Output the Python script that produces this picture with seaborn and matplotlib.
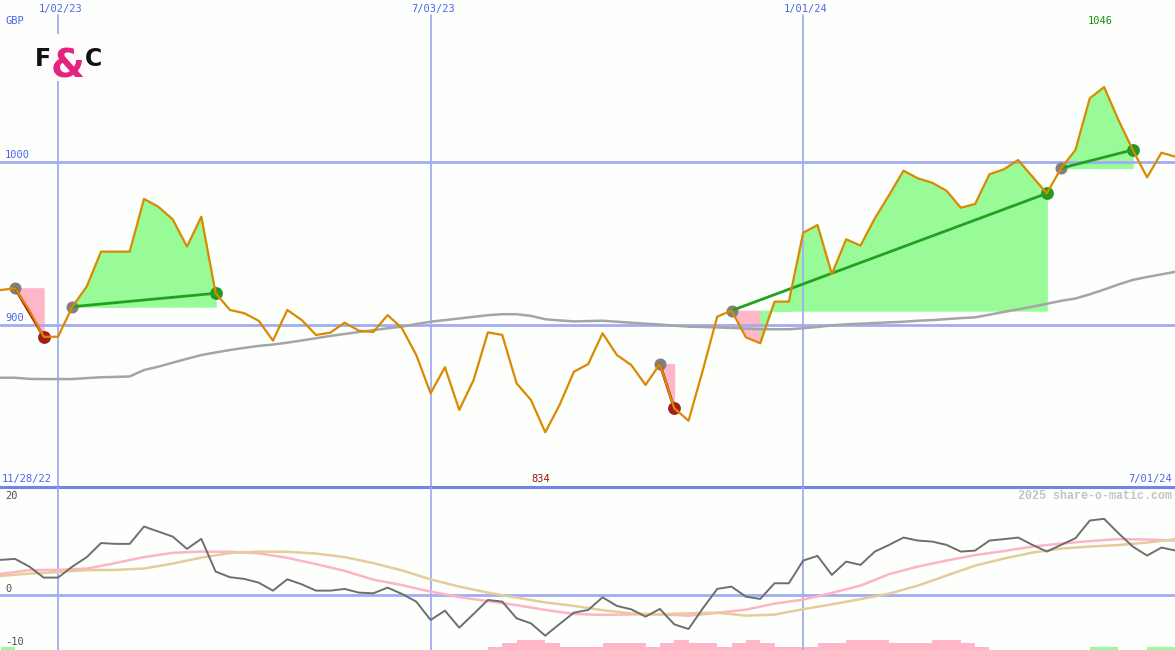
import numpy as np
import pandas as pd
import matplotlib
matplotlib.use("Agg")
import matplotlib.pyplot as plt
import matplotlib.transforms as mtrans
import seaborn as sns
from matplotlib.patches import Rectangle

# ---------------- data (weekly, Mondays from 12/05/22 to 7/01/24) ----------------
price = [921.4, 922.5, 909.0, 892.8, 892.8, 911.2, 923.5, 944.9, 944.9, 944.9,
         977.2, 972.4, 964.7, 948.0, 966.3, 919.4, 909.2, 907.2, 902.6, 890.4,
         909.2, 903.1, 893.9, 895.3, 901.4, 896.5, 895.7, 906.1, 898.0, 881.6,
         858.2, 874.1, 848.0, 866.3, 895.5, 893.9, 864.3, 854.1, 834.3, 851.0,
         871.4, 876.1, 894.9, 881.6, 875.5, 863.3, 876.1, 849.0, 841.4, 872.4,
         905.1, 908.8, 892.5, 888.8, 914.3, 914.3, 956.5, 961.2, 931.2, 952.5,
         948.6, 965.3, 979.6, 994.5, 989.8, 987.1, 982.2, 971.8, 974.1, 992.3,
         995.3, 1001.0, 990.8, 980.6, 996.0, 1007.2, 1038.8, 1045.7, 1025.5, 1007.2,
         990.4, 1005.5, 1003.0]

moving_avg = [867.7, 867.7, 867.0, 866.9, 866.9, 866.9, 867.5, 868.0, 868.2, 868.5,
              872.4, 874.5, 876.9, 879.3, 881.6, 883.2, 884.7, 886.0, 887.2, 888.0,
              889.2, 890.5, 891.9, 893.3, 894.5, 895.7, 896.8, 898.0, 899.0, 900.6,
              902.0, 903.0, 904.0, 905.0, 906.0, 906.6, 906.6, 905.6, 903.5, 902.8,
              902.2, 902.4, 902.6, 902.0, 901.4, 900.8, 900.3, 899.6, 899.0, 898.8,
              898.5, 898.2, 897.8, 897.4, 897.4, 897.4, 898.0, 898.8, 899.8, 900.4,
              900.8, 901.2, 901.6, 902.0, 902.6, 903.0, 903.6, 904.2, 904.7, 906.3,
              908.0, 909.6, 911.2, 913.0, 914.8, 916.2, 918.8, 921.7, 924.8, 927.6,
              929.4, 931.0, 932.6]

momentum = [6.94, 7.14, 5.6, 3.4, 3.4, 5.6, 7.48, 10.3, 10.14, 10.14,
            13.6, 12.6, 11.6, 9.14, 11.14, 4.6, 3.48, 3.14, 2.4, 0.8,
            3.07, 2.07, 0.8, 0.8, 1.14, 0.4, 0.27, 1.4, 0.14, -1.4,
            -5.06, -3.2, -6.6, -3.86, -1.06, -1.4, -4.73, -5.73, -8.2, -5.86,
            -3.6, -3.06, -0.53, -2.26, -2.93, -4.4, -2.86, -5.93, -6.86, -2.73,
            1.14, 1.6, -0.4, -0.86, 2.27, 2.27, 6.8, 7.74, 3.94, 6.6,
            5.94, 8.6, 9.94, 11.4, 10.8, 10.6, 9.94, 8.6, 8.8, 10.8,
            11.08, 11.4, 9.94, 8.6, 9.94, 11.27, 14.8, 15.14, 12.27, 9.6,
            7.8, 9.4, 8.8]

signal_weeks = list(range(0, 83, 2))
signal_fast = [4.14, 4.9, 4.94, 5.2, 6.3, 7.5, 8.35, 8.6, 8.55, 8.25,
               7.35, 6.1, 4.75, 3.0, 1.9, 0.6, -0.5, -1.3, -2.1, -3.05,
               -3.86, -4.05, -3.95, -3.93, -4.2, -3.65, -3.0, -1.8, -1.0, 0.35,
               1.8, 4.1, 5.6, 6.8, 7.9, 8.7, 9.6, 10.2, 10.7, 11.1,
               11.0, 10.8]
signal_slow = [3.74, 4.2, 4.5, 4.9, 4.94, 5.2, 6.2, 7.4, 8.3, 8.6,
               8.55, 8.2, 7.5, 6.3, 4.85, 3.05, 1.6, 0.4, -0.6, -1.55,
               -2.25, -3.1, -3.75, -3.95, -3.72, -3.6, -4.2, -4.0, -2.9, -1.95,
               -0.9, 0.2, 1.8, 3.8, 5.8, 7.2, 8.4, 9.2, 9.6, 9.9,
               10.4, 11.08]

histogram = [0.55] + [0.0] * 33 + [
    -0.55, -1.35, -1.9, -1.9, -1.35, -0.55, -0.55, -0.55, -1.35, -1.35,
    -1.35, -0.55, -1.35, -1.9, -1.35, -1.35, -0.55, -1.35, -1.9, -1.35,
    -0.55, -0.55, -0.55, -1.35, -1.35, -1.9, -1.9, -1.9, -1.35, -1.35,
    -1.35, -1.9, -1.9, -1.35, -0.55,
    0, 0, 0, 0, 0, 0, 0, 0.55, 0.55, 0, 0, 0.55, 0.55, 0]

trade_entry = [1, 5, 46, 51, 74]
trade_exit = [3, 15, 47, 73, 79]

date_tick_weeks = [4, 30, 56]
date_tick_labels = ["1/02/23", "7/03/23", "1/01/24"]
start_label, end_label = "11/28/22", "7/01/24"
price_levels = [1000, 900]
ind_levels = [20, 0, -10]

# ---------------- style ----------------
W, H = 1175, 650
BG = "#FCFFFC"
GRID = "#A3ACF2"
BLUE_TXT = "#5262EE"
ORANGE = "#DA8A00"
GREEN_FILL = "#98FB98"
PINK_FILL = "#FFB6C8"

sns.set_theme(style="white")
plt.rcParams['font.family'] = ['DejaVu Sans Mono', 'DejaVu Sans']

weeks = np.arange(len(price))
df = pd.DataFrame({"week": weeks, "price": price, "ma": moving_avg, "mom": momentum})
sig = pd.DataFrame({"week": signal_weeks, "fast": signal_fast, "slow": signal_slow})

fig = plt.figure(figsize=(W / 100, H / 100), dpi=100, facecolor=BG)
ax1 = fig.add_axes([0, 163 / H, 1, 487 / H])
ax2 = fig.add_axes([0, 0, 1, 163 / H])

X0 = -0.7 / 14.33
X1 = X0 + W / 14.33
for ax in (ax1, ax2):
    ax.set_facecolor(BG)
    ax.set_xlim(X0, X1)
    ax.set_xticks([])
    ax.set_yticks([])
    for s in ax.spines.values():
        s.set_visible(False)
ax1.set_ylim(800.8, 1099.0)
ax2.set_ylim(-11.06, 21.5)
ax2.spines['top'].set_visible(True)
ax2.spines['top'].set_color("#7482EC")
ax2.spines['top'].set_linewidth(2.2)

# grid
for k in date_tick_weeks:
    ax1.axvline(k, ymin=0, ymax=(487 - 15) / 487, color=GRID, lw=1.3, zorder=3)
    ax2.axvline(k, color=GRID, lw=1.3, zorder=3)
for lv in price_levels:
    ax1.axhline(lv, color=GRID, lw=2, zorder=3)
ax2.axhline(0, color=GRID, lw=2, zorder=1)

# trades
for e, x in zip(trade_entry, trade_exit):
    ep = price[e]
    for i in range(e, x):
        col = GREEN_FILL if price[i + 1] >= ep else PINK_FILL
        ax1.fill_between([i, i + 1], ep, price[i:i + 2], facecolor=col, edgecolor=col,
                         lw=0.7, zorder=2)
    win = price[x] > ep
    ax1.plot([e, x], [ep, price[x]], color="#22A022" if win else "#A01515", lw=2, zorder=6)
    ax1.scatter([e], [ep], s=75, color="#808080", zorder=5, lw=0)
    ax1.scatter([x], [price[x]], s=85, color="#229A22" if win else "#A51C1C", zorder=5, lw=0)

sns.lineplot(data=df, x="week", y="ma", ax=ax1, color="#A5A5A5", lw=1.8, zorder=4)
sns.lineplot(data=df, x="week", y="price", ax=ax1, color=ORANGE, lw=1.6, zorder=7)

# indicator panel
hist = np.array(histogram)
ax2.bar(weeks, np.abs(hist), bottom=-11.06, width=1.0, align="edge",
        color=[GREEN_FILL if v > 0 else PINK_FILL for v in hist], lw=0, zorder=2)
sns.lineplot(data=sig, x="week", y="fast", ax=ax2, color="#FFB3C6", lw=1.8, zorder=3)
sns.lineplot(data=sig, x="week", y="slow", ax=ax2, color="#E6CC9A", lw=1.8, zorder=3)
sns.lineplot(data=df, x="week", y="mom", ax=ax2, color="#6E6E6E", lw=1.4, zorder=4)
for ax in (ax1, ax2):
    ax.set_xlabel("")
    ax.set_ylabel("")
    ax.set_xlim(X0, X1)

# ---------------- texts ----------------
def fx(px):
    return px / W

def fy(py):
    return 1 - py / H

fs = 7.5
bt = mtrans.blended_transform_factory(ax1.transData, fig.transFigure)
for k, lab in zip(date_tick_weeks, date_tick_labels):
    ax1.text(k + 0.2, fy(9), lab, transform=bt, ha="center", va="center",
             fontsize=fs, color=BLUE_TXT)
fig.text(fx(5), fy(21), "GBP", ha="left", va="center", fontsize=fs, color=BLUE_TXT)
yt = mtrans.blended_transform_factory(fig.transFigure, ax1.transData)
for lv in price_levels:
    ax1.text(fx(5), lv + 1.2, str(lv), transform=yt,
             ha="left", va="bottom", fontsize=fs, color=BLUE_TXT)

imax = int(np.argmax(price))
imin = int(np.argmin(price))
ax1.text(imax - 0.3, fy(21), f"{round(max(price))}", transform=bt, ha="center", va="center",
         fontsize=fs, color="#109010")
ax1.text(imin - 0.3, fy(479), f"{round(min(price))}", transform=bt, ha="center", va="center",
         fontsize=fs, color="#A01010")
fig.text(fx(2), fy(479), start_label, ha="left", va="center", fontsize=fs, color=BLUE_TXT)
fig.text(fx(1172), fy(479), end_label, ha="right", va="center", fontsize=fs, color=BLUE_TXT)
fig.text(fx(1172), fy(496), "2025 share-o-matic.com", ha="right", va="center",
         fontsize=8.4, color="#C4C4C4", fontweight="bold", family=["Liberation Mono", "DejaVu Sans Mono"])
for lv, py in zip(ind_levels, [496, 589, 642]):
    fig.text(fx(5), fy(py), str(lv), ha="left", va="center", fontsize=fs, color="#505050")

# logo
fig.patches.append(Rectangle((fx(34), fy(81)), 70 / W, 47 / H, transform=fig.transFigure,
                             facecolor="#FFFCFC", edgecolor="none", zorder=10))
fig.text(fx(35), fy(66), "F", ha="left", va="baseline", fontsize=17, fontweight="heavy",
         color="#111111", family="DejaVu Sans", zorder=11)
fig.text(fx(67.5), fy(78), "&", ha="center", va="baseline", fontsize=28, fontweight="heavy",
         color="#E52480", family="DejaVu Sans", zorder=12)
fig.text(fx(102), fy(66), "C", ha="right", va="baseline", fontsize=17, fontweight="heavy",
         color="#111111", family="DejaVu Sans", zorder=13)

fig.savefig("out.png", dpi=100, facecolor=BG)
